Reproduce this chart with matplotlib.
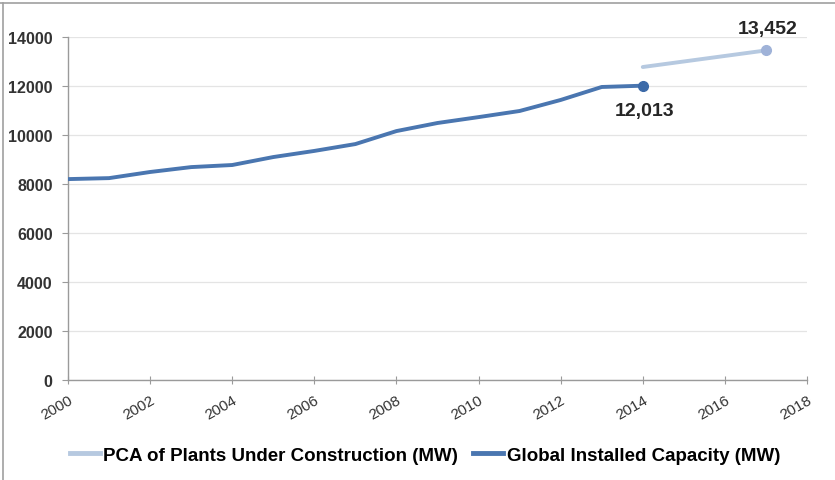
import matplotlib
matplotlib.use("Agg")
import matplotlib.pyplot as plt
from matplotlib.lines import Line2D

plt.rcParams['font.family'] = ['Liberation Sans', 'DejaVu Sans']

# global installed capacity, MW
years = [2000, 2001, 2002, 2003, 2004, 2005, 2006, 2007, 2008, 2009,
         2010, 2011, 2012, 2013, 2014]
installed = [8200, 8240, 8490, 8690, 8775, 9100, 9350, 9630, 10160, 10490,
             10730, 10980, 11430, 11960, 12013]

# capacity of plants under construction, MW
pca_years = [2014, 2017]
pca = [12775, 13452]

yticks = [0, 2000, 4000, 6000, 8000, 10000, 12000, 14000]
xticks = [2000, 2002, 2004, 2006, 2008, 2010, 2012, 2014, 2016, 2018]

c_installed = '#4a76b0'
c_pca = '#b6c9e0'

fig = plt.figure(figsize=(8.35, 4.81), dpi=100)
ax = fig.add_axes([68 / 835, 100 / 481, (807 - 68) / 835, (381 - 38) / 481])

ax.plot(pca_years, pca, color=c_pca, lw=2.8, solid_capstyle='round', zorder=3)
ax.plot(pca_years[-1], pca[-1], 'o', color='#9fb2d8', ms=7, zorder=4)
ax.plot(years, installed, color=c_installed, lw=2.8, solid_joinstyle='round', zorder=3)
ax.plot(years[-1], installed[-1], 'o', color='#3c6aa8', ms=7, zorder=4)

ax.annotate(f"{pca[-1]:,}", (pca_years[-1], pca[-1]), xytext=(1, 10),
            textcoords='offset points', ha='center', va='bottom',
            fontsize=14, fontweight='bold', color='#262626', annotation_clip=False)
ax.annotate(f"{installed[-1]:,}", (years[-1], installed[-1]), xytext=(1, -12),
            textcoords='offset points', ha='center', va='top',
            fontsize=14, fontweight='bold', color='#262626')

ax.set_xlim(2000, 2018)
ax.set_ylim(0, 14000)
ax.set_yticks(yticks)
ax.set_yticklabels([str(v) for v in yticks], fontsize=11.5, fontweight='bold', color='#333333')
ax.set_xticks(xticks)
ax.set_xticklabels([str(v) for v in xticks], fontsize=11, rotation=30,
                   ha='right', rotation_mode='anchor', color='#333333')

ax.grid(axis='y', color='#e4e4e4', lw=0.9)
ax.set_axisbelow(True)
for s in ['top', 'right']:
    ax.spines[s].set_visible(False)
for s in ['left', 'bottom']:
    ax.spines[s].set_color('#9a9a9a')
    ax.spines[s].set_linewidth(1.0)
ax.tick_params(axis='y', length=4, color='#9a9a9a', pad=7)
ax.tick_params(axis='x', direction='inout', length=6, color='#9a9a9a', pad=6)

handles = [Line2D([], [], color=c_pca, lw=3.5),
           Line2D([], [], color=c_installed, lw=3.5)]
fig.legend(handles, ['PCA of Plants Under Construction (MW)', 'Global Installed Capacity (MW)'],
           loc='center', bbox_to_anchor=(425 / 835, 1 - 456 / 481), ncol=2, frameon=False,
           handlelength=1.6, handletextpad=0.2, columnspacing=0.8,
           prop={'size': 13.5, 'weight': 'bold'})

# outer frame lines along the top and left edges
fig.add_artist(Line2D([0, 1], [1 - 4 / 481, 1 - 4 / 481], color='#a0a0a0', lw=1.2))
fig.add_artist(Line2D([3 / 835, 3 / 835], [0, 1 - 4 / 481], color='#a0a0a0', lw=1.2))

fig.savefig('out.png', dpi=100)
